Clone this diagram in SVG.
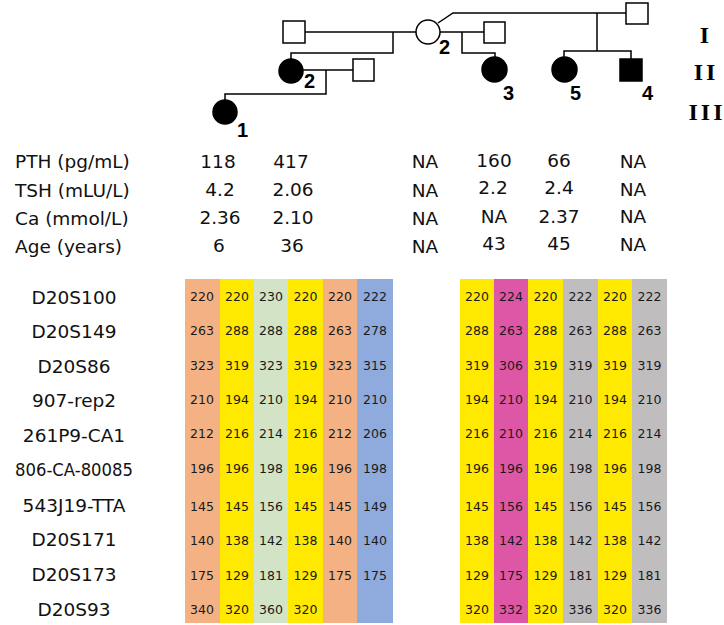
<svg xmlns="http://www.w3.org/2000/svg" width="724" height="625" viewBox="0 0 724 625">
<style>
.ln{fill:none;stroke:#000;stroke-width:1.5}
.open{fill:#fff;stroke:#000;stroke-width:1.5}
.aff{fill:#000;stroke:#000;stroke-width:1.5}
.id{font-family:"Liberation Sans",Arial,sans-serif;font-weight:bold;font-size:20px;fill:#000}
.gen{font-family:"Liberation Serif","Times New Roman",serif;font-weight:bold;font-size:24px;fill:#000;text-anchor:middle;letter-spacing:3px}
.lab{font-family:"DejaVu Sans",sans-serif;font-size:18.5px;fill:#111}
.mk{font-family:"DejaVu Sans",sans-serif;font-size:18.5px;fill:#111;text-anchor:middle}
.val{font-family:"DejaVu Sans",sans-serif;font-size:18.5px;fill:#111;text-anchor:middle}
.n{font-family:"DejaVu Sans",sans-serif;font-size:12.5px;fill:#1a1a1a;text-anchor:middle}
</style>
<rect width="724" height="625" fill="#fff"/>

<g id="connectors">
<polyline class="ln" points="305,32 416,32"/>
<polyline class="ln" points="393,32 393,53 291,53 291,59"/>
<polyline class="ln" points="303,70 353,70"/>
<polyline class="ln" points="326,70 326,94 225,94 225,100"/>
<polyline class="ln" points="440,32 484,32"/>
<polyline class="ln" points="462,32 462,53 495,53 495,57"/>
<polyline class="ln" points="438,23 453,13 626,13"/>
<polyline class="ln" points="597,13 597,51"/>
<polyline class="ln" points="564,57 564,51 631,51 631,59"/>
</g>

<g id="I-1"><rect class="open" x="283" y="21" width="22" height="22"/></g>
<g id="I-2"><circle class="open" cx="428" cy="32" r="12"/><text class="id" x="439" y="54">2</text></g>
<g id="I-3"><rect class="open" x="484" y="22" width="21" height="21"/></g>
<g id="I-4"><rect class="open" x="626" y="3" width="22" height="21"/></g>
<g id="II-2"><circle class="aff" cx="291" cy="71" r="12"/><text class="id" x="304" y="88">2</text></g>
<g id="II-spouse"><rect class="open" x="353" y="59" width="21" height="22"/></g>
<g id="II-3"><circle class="aff" cx="494.5" cy="69.5" r="12.5"/><text class="id" x="503" y="100">3</text></g>
<g id="II-5"><circle class="aff" cx="564.5" cy="69.5" r="12.5"/><text class="id" x="570" y="100">5</text></g>
<g id="II-4"><rect class="aff" x="620" y="59" width="22" height="22"/><text class="id" x="642" y="100">4</text></g>
<g id="III-1"><circle class="aff" cx="225" cy="112" r="12"/><text class="id" x="237" y="137">1</text></g>

<g id="generations">
<text class="gen" x="706" y="43">I</text>
<text class="gen" x="706" y="80">II</text>
<text class="gen" x="707" y="120">III</text>
</g>

<g id="clinical">
<text class="lab" x="15" y="168">PTH (pg/mL)</text>
<text class="lab" x="15" y="197">TSH (mLU/L)</text>
<text class="lab" x="15" y="225">Ca (mmol/L)</text>
<text class="lab" x="15" y="253">Age (years)</text>
<text class="val" x="218" y="168">118</text><text class="val" x="291" y="168">417</text><text class="val" x="425" y="168">NA</text><text class="val" x="494" y="167">160</text><text class="val" x="559" y="167">66</text><text class="val" x="633" y="168">NA</text>
<text class="val" x="220" y="196">4.2</text><text class="val" x="293" y="196">2.06</text><text class="val" x="425" y="197">NA</text><text class="val" x="493" y="194">2.2</text><text class="val" x="559" y="194">2.4</text><text class="val" x="633" y="196">NA</text>
<text class="val" x="220" y="224">2.36</text><text class="val" x="293" y="224">2.10</text><text class="val" x="425" y="225">NA</text><text class="val" x="494" y="223">NA</text><text class="val" x="559" y="223">2.37</text><text class="val" x="633" y="223">NA</text>
<text class="val" x="219" y="252">6</text><text class="val" x="292" y="252">36</text><text class="val" x="425" y="253">NA</text><text class="val" x="494" y="250">43</text><text class="val" x="559" y="250">45</text><text class="val" x="633" y="251">NA</text>
</g>

<g id="markers">
<text class="mk" x="74" y="304">D20S100</text>
<text class="mk" x="74" y="338">D20S149</text>
<text class="mk" x="74" y="373">D20S86</text>
<text class="mk" x="74" y="407">907-rep2</text>
<text class="mk" x="74" y="442">261P9-CA1</text>
<text class="mk" x="74" y="476" textLength="118" lengthAdjust="spacingAndGlyphs">806-CA-80085</text>
<text class="mk" x="74" y="512">543J19-TTA</text>
<text class="mk" x="74" y="546">D20S171</text>
<text class="mk" x="74" y="581">D20S173</text>
<text class="mk" x="74" y="616">D20S93</text>
</g>

<g id="haplotypes-left">
<rect x="185" y="279" width="35" height="344" fill="#F4B184"/>
<rect x="220" y="279" width="34" height="344" fill="#FFE900"/>
<rect x="254" y="279" width="34" height="344" fill="#D3E3C6"/>
<rect x="288" y="279" width="35" height="344" fill="#FFE900"/>
<rect x="323" y="279" width="34" height="344" fill="#F4B184"/>
<rect x="357" y="279" width="36" height="344" fill="#8FAADC"/>
<g id="lt">
<text class="n" x="202" y="301">220</text><text class="n" x="237" y="301">220</text><text class="n" x="271" y="301">230</text><text class="n" x="305.5" y="301">220</text><text class="n" x="340" y="301">220</text><text class="n" x="375" y="301">222</text>
<text class="n" x="202" y="335">263</text><text class="n" x="237" y="335">288</text><text class="n" x="271" y="335">288</text><text class="n" x="305.5" y="335">288</text><text class="n" x="340" y="335">263</text><text class="n" x="375" y="335">278</text>
<text class="n" x="202" y="370">323</text><text class="n" x="237" y="370">319</text><text class="n" x="271" y="370">323</text><text class="n" x="305.5" y="370">319</text><text class="n" x="340" y="370">323</text><text class="n" x="375" y="370">315</text>
<text class="n" x="202" y="404">210</text><text class="n" x="237" y="404">194</text><text class="n" x="271" y="404">210</text><text class="n" x="305.5" y="404">194</text><text class="n" x="340" y="404">210</text><text class="n" x="375" y="404">210</text>
<text class="n" x="202" y="438">212</text><text class="n" x="237" y="438">216</text><text class="n" x="271" y="438">214</text><text class="n" x="305.5" y="438">216</text><text class="n" x="340" y="438">212</text><text class="n" x="375" y="438">206</text>
<text class="n" x="202" y="473">196</text><text class="n" x="237" y="473">196</text><text class="n" x="271" y="473">198</text><text class="n" x="305.5" y="473">196</text><text class="n" x="340" y="473">196</text><text class="n" x="375" y="473">198</text>
<text class="n" x="202" y="511">145</text><text class="n" x="237" y="511">145</text><text class="n" x="271" y="511">156</text><text class="n" x="305.5" y="511">145</text><text class="n" x="340" y="511">145</text><text class="n" x="375" y="511">149</text>
<text class="n" x="202" y="545">140</text><text class="n" x="237" y="545">138</text><text class="n" x="271" y="545">142</text><text class="n" x="305.5" y="545">138</text><text class="n" x="340" y="545">140</text><text class="n" x="375" y="545">140</text>
<text class="n" x="202" y="580">175</text><text class="n" x="237" y="580">129</text><text class="n" x="271" y="580">181</text><text class="n" x="305.5" y="580">129</text><text class="n" x="340" y="580">175</text><text class="n" x="375" y="580">175</text>
<text class="n" x="202" y="614">340</text><text class="n" x="237" y="614">320</text><text class="n" x="271" y="614">360</text><text class="n" x="305.5" y="614">320</text>
</g>
</g>

<g id="haplotypes-right">
<rect x="460" y="279" width="34" height="344" fill="#FFE900"/>
<rect x="494" y="279" width="34" height="344" fill="#DE57A7"/>
<rect x="528" y="279" width="35" height="344" fill="#FFE900"/>
<rect x="563" y="279" width="35" height="344" fill="#C0BDBF"/>
<rect x="598" y="279" width="34" height="344" fill="#FFE900"/>
<rect x="632" y="279" width="35" height="344" fill="#C0BDBF"/>
<g id="rt">
<text class="n" x="477" y="301">220</text><text class="n" x="511" y="301">224</text><text class="n" x="545.5" y="301">220</text><text class="n" x="580.5" y="301">222</text><text class="n" x="615" y="301">220</text><text class="n" x="649.5" y="301">222</text>
<text class="n" x="477" y="335">288</text><text class="n" x="511" y="335">263</text><text class="n" x="545.5" y="335">288</text><text class="n" x="580.5" y="335">263</text><text class="n" x="615" y="335">288</text><text class="n" x="649.5" y="335">263</text>
<text class="n" x="477" y="370">319</text><text class="n" x="511" y="370">306</text><text class="n" x="545.5" y="370">319</text><text class="n" x="580.5" y="370">319</text><text class="n" x="615" y="370">319</text><text class="n" x="649.5" y="370">319</text>
<text class="n" x="477" y="404">194</text><text class="n" x="511" y="404">210</text><text class="n" x="545.5" y="404">194</text><text class="n" x="580.5" y="404">210</text><text class="n" x="615" y="404">194</text><text class="n" x="649.5" y="404">210</text>
<text class="n" x="477" y="438">216</text><text class="n" x="511" y="438">210</text><text class="n" x="545.5" y="438">216</text><text class="n" x="580.5" y="438">214</text><text class="n" x="615" y="438">216</text><text class="n" x="649.5" y="438">214</text>
<text class="n" x="477" y="473">196</text><text class="n" x="511" y="473">196</text><text class="n" x="545.5" y="473">196</text><text class="n" x="580.5" y="473">198</text><text class="n" x="615" y="473">196</text><text class="n" x="649.5" y="473">198</text>
<text class="n" x="477" y="511">145</text><text class="n" x="511" y="511">156</text><text class="n" x="545.5" y="511">145</text><text class="n" x="580.5" y="511">156</text><text class="n" x="615" y="511">145</text><text class="n" x="649.5" y="511">156</text>
<text class="n" x="477" y="545">138</text><text class="n" x="511" y="545">142</text><text class="n" x="545.5" y="545">138</text><text class="n" x="580.5" y="545">142</text><text class="n" x="615" y="545">138</text><text class="n" x="649.5" y="545">142</text>
<text class="n" x="477" y="580">129</text><text class="n" x="511" y="580">175</text><text class="n" x="545.5" y="580">129</text><text class="n" x="580.5" y="580">181</text><text class="n" x="615" y="580">129</text><text class="n" x="649.5" y="580">181</text>
<text class="n" x="477" y="614">320</text><text class="n" x="511" y="614">332</text><text class="n" x="545.5" y="614">320</text><text class="n" x="580.5" y="614">336</text><text class="n" x="615" y="614">320</text><text class="n" x="649.5" y="614">336</text>
</g>
</g>
</svg>
